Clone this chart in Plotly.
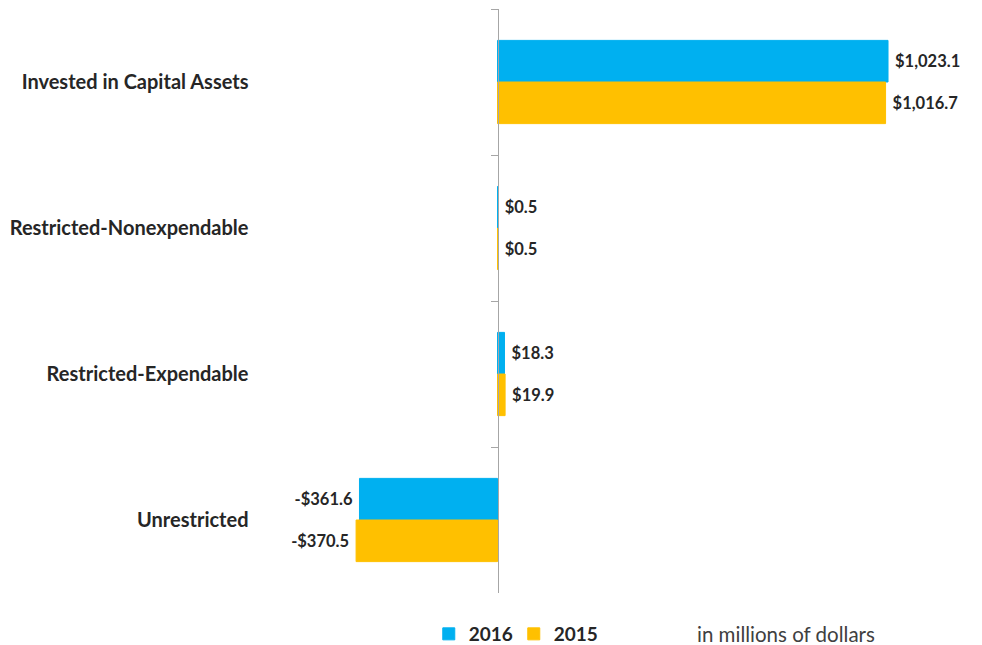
import plotly.graph_objects as go

categories = ["Invested in Capital Assets", "Restricted-Nonexpendable",
              "Restricted-Expendable", "Unrestricted"]
values_2016 = [1023.1, 0.5, 18.3, -361.6]
values_2015 = [1016.7, 0.5, 19.9, -370.5]
series_names = ["2016", "2015"]
unit_note = "in millions of dollars"

BLUE = "#00B0F0"
GOLD = "#FFC000"
TEXT = "#262626"
FONT = "Lato"
NBSP = "\u00a0"


def money(v):
    # a little padding between bar end and label
    if v < 0:
        return f"-${abs(v):,.1f}{NBSP}"
    return f"{NBSP}${v:,.1f}"


fig = go.Figure()
for name, vals, color in [(series_names[0], values_2016, BLUE),
                          (series_names[1], values_2015, GOLD)]:
    fig.add_trace(go.Bar(
        y=categories, x=vals, name=name, orientation="h",
        marker=dict(color=color, line=dict(width=1, color=color)),
        text=[money(v) for v in vals], textposition="outside",
        textfont=dict(family=FONT, size=16.5, color=TEXT, weight="bold"),
        cliponaxis=False,
    ))

# page body has an 8px margin, so the figure is sized/placed to compensate
W, H = 974, 637
px_per_unit = 0.3817
zero_px = 489.5
dom_px = [330, 970]
x_range = [(dom_px[0] - zero_px) / px_per_unit, (dom_px[1] - zero_px) / px_per_unit]
x_domain = [dom_px[0] / W, dom_px[1] / W]
zero_pos = x_domain[0] + (0 - x_range[0]) / (x_range[1] - x_range[0]) * (x_domain[1] - x_domain[0])

fig.update_layout(
    width=W, height=H,
    margin=dict(l=0, r=0, t=1, b=52, autoexpand=False),
    plot_bgcolor="white", paper_bgcolor="white",
    barmode="group", bargap=0.43, bargroupgap=0,
    font=dict(family=FONT, color=TEXT),
    xaxis=dict(domain=x_domain, range=x_range, visible=False, zeroline=False,
               showgrid=False),
    yaxis=dict(anchor="free", position=zero_pos, side="left",
               autorange="reversed", showline=True, linecolor="#A6A6A6",
               linewidth=1, ticks="outside", tickson="boundaries", ticklen=7,
               tickcolor="#A6A6A6", showgrid=False, ticklabelstandoff=245,
               tickfont=dict(family=FONT, size=20, color=TEXT, weight="bold")),
    legend=dict(orientation="h", x=0.432, y=-0.0702, xanchor="left",
                yanchor="middle", font=dict(family=FONT, size=19, color=TEXT,
                                            weight="bold"),
                itemwidth=30, entrywidth=40, tracegroupgap=0),
    showlegend=True,
)

fig.add_annotation(text=unit_note, xref="paper", yref="paper",
                   x=687 / W, y=-0.0702, xanchor="left", yanchor="middle",
                   showarrow=False, font=dict(family=FONT, size=20.5, color="#404040"))

fig.write_html("out.html")
